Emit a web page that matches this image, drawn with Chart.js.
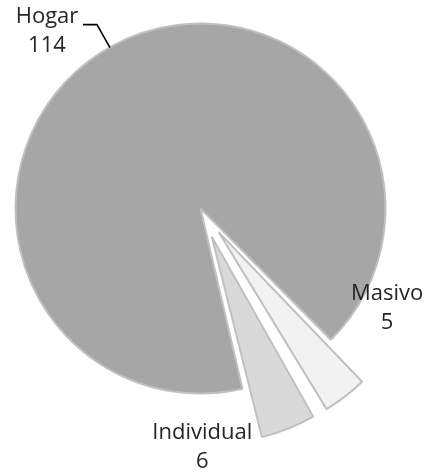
<!DOCTYPE html>
<html><head><meta charset="utf-8">
<script src="https://cdn.jsdelivr.net/npm/chart.js@4/dist/chart.umd.min.js"></script>
<style>html,body{margin:0;padding:0;background:#fff;overflow:hidden}#wrap{position:relative;width:428px;height:475px}canvas{display:block}</style>
</head><body><div id="wrap"><canvas id="c" width="428" height="475" style="width:428px;height:475px"></canvas></div>
<script>
const categories = ['Hogar', 'Masivo', 'Individual'];
const values = [114, 5, 6];
const sliceColors = ['#a6a6a6', '#f2f2f2', '#d9d9d9'];
const explodeOffsets = [0, 119, 122];

// label block centers, relative to each slice's outer mid point
const labelShift = [{dx: -64, dy: -16}, {dx: 42, dy: -89}, {dx: -86, dy: 18}];

const labelPlugin = {
  id: 'pieLabels',
  afterDatasetsDraw(chart) {
    const ctx = chart.ctx;
    const meta = chart.getDatasetMeta(0);
    ctx.save();
    ctx.font = '22px "Open Sans"';
    ctx.fillStyle = '#262626';
    ctx.textAlign = 'center';
    ctx.textBaseline = 'middle';
    meta.data.forEach((arc, i) => {
      const p = arc.getProps(['x', 'y', 'startAngle', 'endAngle', 'outerRadius'], true);
      const mid = (p.startAngle + p.endAngle) / 2;
      const circ = p.endAngle - p.startAngle;
      const off = explodeOffsets[i] / 4;
      const disp = off + off * (1 - Math.sin(Math.min(Math.PI, circ)));
      const cx = p.x + Math.cos(mid) * disp;
      const cy = p.y + Math.sin(mid) * disp;
      const ox = cx + Math.cos(mid) * p.outerRadius;
      const oy = cy + Math.sin(mid) * p.outerRadius;
      const lx = ox + labelShift[i].dx;
      const ly = oy + labelShift[i].dy;
      ctx.fillText(categories[i], lx, ly - 14);
      ctx.fillText(String(values[i]), lx, ly + 15);
      if (i === 0) {
        ctx.strokeStyle = '#000';
        ctx.lineWidth = 1.6;
        ctx.beginPath();
        ctx.moveTo(ox - 1, oy + 1);
        ctx.lineTo(ox - 14, oy - 22);
        ctx.lineTo(ox - 28, oy - 22);
        ctx.stroke();
      }
    });
    ctx.restore();
  }
};

new Chart(document.getElementById('c'), {
  type: 'pie',
  data: {
    labels: categories,
    datasets: [{
      data: values,
      backgroundColor: sliceColors,
      borderColor: '#c0c0c0',
      borderWidth: 2,
      offset: explodeOffsets,
      hoverOffset: 0,
      clip: false
    }]
  },
  options: {
    responsive: false,
    maintainAspectRatio: false,
    devicePixelRatio: 1,
    animation: false,
    events: [],
    rotation: 166.9,
    radius: 185,
    layout: {padding: {left: 0, top: 0, right: 27, bottom: 58}},
    plugins: {legend: {display: false}, tooltip: {enabled: false}}
  },
  plugins: [labelPlugin]
});
</script>
</body></html>
